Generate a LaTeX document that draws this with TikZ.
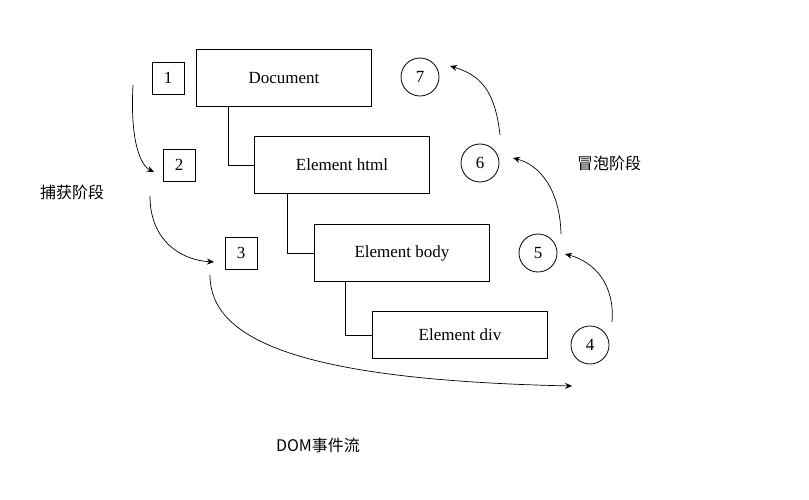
\documentclass[tikz,border=0pt]{standalone}
\usepackage{fontspec}
\setmainfont{Liberation Serif}
\newfontfamily\cjk{Noto Sans CJK SC}
\usetikzlibrary{arrows.meta}
\begin{document}
\begin{tikzpicture}[x=1pt,y=-1pt,
  box/.style={draw,line width=0.8pt,minimum width=175pt,minimum height=57pt,font=\fontsize{17}{20}\selectfont,inner sep=0pt},
  sq/.style={draw,line width=0.8pt,minimum size=32pt,font=\fontsize{17}{20}\selectfont,inner sep=0pt},
  cir/.style={draw,circle,line width=0.8pt,minimum size=38pt,font=\fontsize{17}{20}\selectfont,inner sep=0pt},
  arr/.style={-{Stealth[length=7pt,width=6pt]},line width=0.7pt},
  lbl/.style={font=\cjk\fontsize{16}{19}\selectfont}]
\useasboundingbox (0,0) rectangle (809,500);
\node[box] (doc) at (284,78) {Document};
\node[box] (html) at (342,165) {Element html};
\node[box] (body) at (402,253) {Element body};
\node[box,minimum height=47pt] (div) at (460,335) {Element div};
\draw[line width=0.8pt] (228,107) |- (html.west);
\draw[line width=0.8pt] (287,194) |- (body.west);
\draw[line width=0.8pt] (345,282) |- (div.west);
\node[sq] (s1) at (168,78) {1};
\node[sq] (s2) at (179,165) {2};
\node[sq] (s3) at (241,253) {3};
\node[cir] (c7) at (420,77) {7};
\node[cir] (c6) at (480,163) {6};
\node[cir] (c5) at (538,253) {5};
\node[cir] (c4) at (590,345) {4};
\coordinate (a0) at (133,85);
\coordinate (a1) at (154,172);
\draw[arr] (a0) .. controls (130,140) and (140,165) .. (a1);
\coordinate (b0) at (150,196);
\coordinate (b1) at (214,262);
\draw[arr] (b0) .. controls (150,240) and (180,260) .. (b1);
\coordinate (d0) at (210,275);
\coordinate (d1) at (572,386);
\draw[arr] (d0) .. controls (210,340) and (300,380) .. (d1);
\coordinate (e0) at (612,322);
\coordinate (e1) at (565,254);
\draw[arr] (e0) .. controls (615,285) and (595,262) .. (e1);
\coordinate (f0) at (561,234);
\coordinate (f1) at (513,158);
\draw[arr] (f0) .. controls (560,190) and (540,165) .. (f1);
\coordinate (g0) at (500,135);
\coordinate (g1) at (450,66);
\draw[arr] (g0) .. controls (495,90) and (480,75) .. (g1);
\node[lbl] (t1) at (72,192) {捕获阶段};
\node[lbl] (t2) at (609,163) {冒泡阶段};
\node[lbl] (t3) at (318,445) {DOM事件流};
\end{tikzpicture}
\end{document}
